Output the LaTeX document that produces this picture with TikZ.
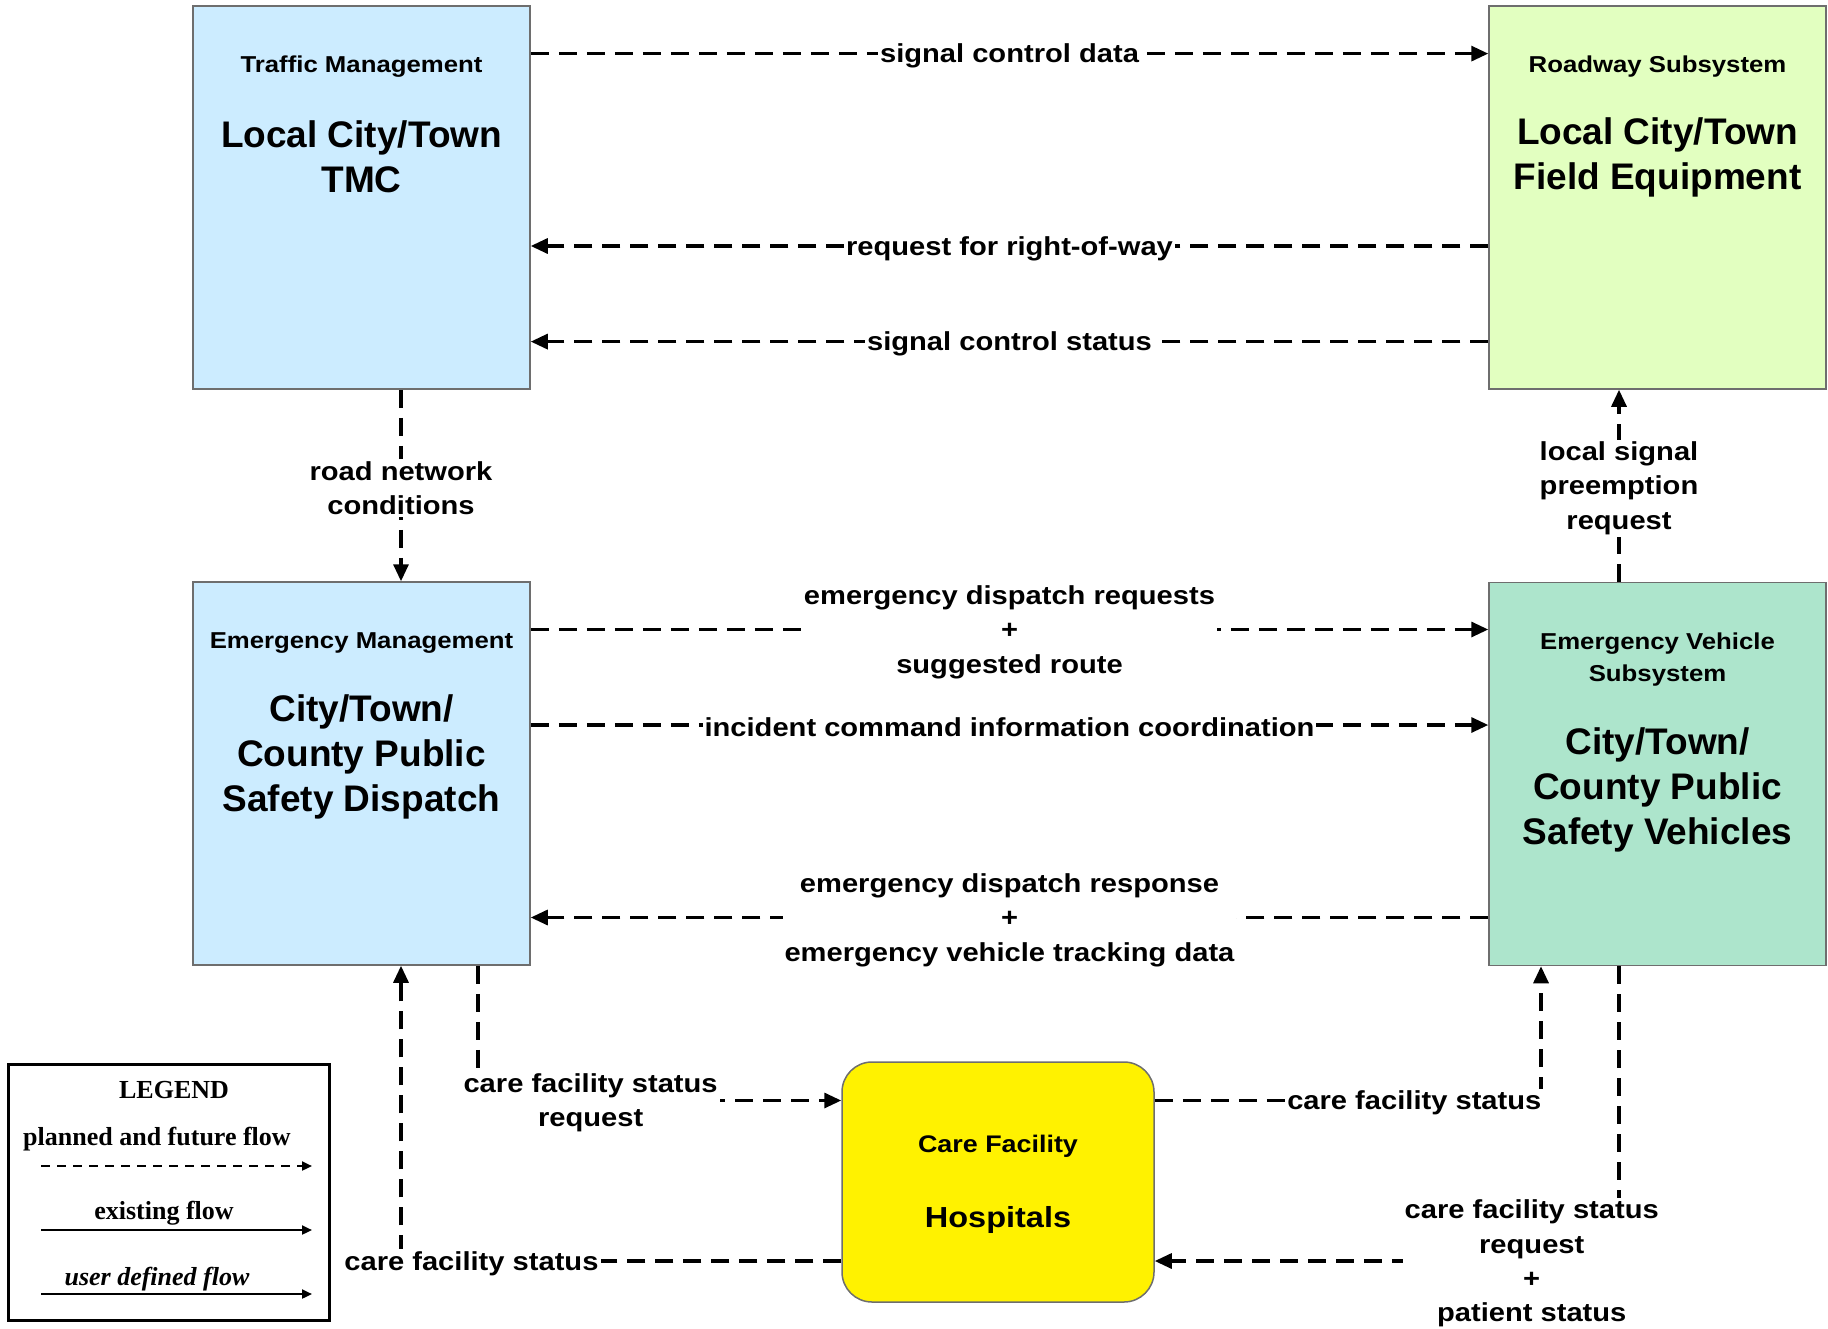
\documentclass[tikz,border=0pt]{standalone}
\usepackage{fontspec}
\setmainfont{Liberation Sans}
\newfontfamily\labfont[FakeStretch=1.12]{Liberation Sans}
\newfontfamily\legfont{Liberation Serif}
\usetikzlibrary{arrows.meta}
\definecolor{bluebox}{RGB}{204,236,255}
\definecolor{greenbox}{RGB}{226,255,192}
\definecolor{mintbox}{RGB}{173,229,204}
\definecolor{bordergray}{RGB}{110,110,110}
\begin{document}
\begin{tikzpicture}[x=1pt,y=-1pt,
  box/.style={draw=bordergray, line width=1.5pt, minimum width=337pt, minimum height=383pt, inner sep=0pt},
  flow/.style={draw, line width=3.2pt, dash pattern=on 18pt off 10pt, -{Triangle[length=17pt,width=15pt]}},
  lab/.style={fill=white, inner sep=2pt, yshift=-2.5pt, align=center, font=\labfont\bfseries\fontsize{26}{34.4}\selectfont},
  ttl/.style={align=center, font=\labfont\bfseries\fontsize{23}{32}\selectfont},
  nm/.style={align=center, font=\bfseries\fontsize{37}{45}\selectfont},
  legtext/.style={font=\legfont\bfseries\fontsize{26}{30}\selectfont},
  legarrow/.style={draw, line width=2.2pt, -{Triangle[length=10pt,width=9pt]}}
]
\useasboundingbox (0,0) rectangle (1828,1328);

% boxes
\node[box, fill=bluebox] (tmc) at (361.5,197.5) {};
\node[box, fill=greenbox] (rs) at (1657.5,197.5) {};
\node[box, fill=bluebox] (em) at (361.5,773.5) {};
\node[box, fill=mintbox] (ev) at (1657.5,774) {};
\node[draw=bordergray, line width=1.5pt, fill=yellow, rounded corners=30pt, minimum width=312pt, minimum height=240pt, inner sep=0pt] (cf) at (998,1182) {};

% box texts
\node[ttl] (tmcT) at (361.5,66.5) {Traffic Management};
\node[nm] (tmcN) at (361.5,156.5) {Local City/Town\\TMC};
\node[ttl] (rsT) at (1657.5,66.5) {Roadway Subsystem};
\node[nm] (rsN) at (1657.5,157) {Local City/Town\\Field Equipment};
\node[ttl] (emT) at (361.5,643) {Emergency Management};
\node[nm] (emN) at (361.5,757) {City/Town/\\County Public\\Safety Dispatch};
\node[ttl] (evT) at (1657.5,659.5) {Emergency Vehicle\\Subsystem};
\node[nm] (evN) at (1657.5,790) {City/Town/\\County Public\\Safety Vehicles};
\node[ttl, font=\labfont\bfseries\fontsize{24}{30}\selectfont] (cfT) at (998,1146) {Care Facility};
\node[ttl, font=\labfont\bfseries\fontsize{29}{34}\selectfont] (cfN) at (998,1219.5) {Hospitals};

% flows
\draw[flow] (tmc.east |- 0,53.6) -- node[lab]{signal control data} (rs.west |- 0,53.6);
\draw[flow] (rs.west |- 0,246) -- node[lab]{request for right-of-way} (tmc.east |- 0,246);
\draw[flow] (rs.west |- 0,341.6) -- node[lab]{signal control status} (tmc.east |- 0,341.6);
\draw[flow] (tmc.south -| 401,0) -- node[lab]{road network\\conditions} (em.north -| 401,0);
\draw[flow] (ev.north -| 1619,0) -- node[lab]{local signal\\preemption\\request} (rs.south -| 1619,0);
\draw[flow] (em.east |- 0,629.5) -- node[lab]{emergency dispatch requests\\+\\suggested route} (ev.west |- 0,629.5);
\draw[flow] (em.east |- 0,725) -- node[lab]{incident command information coordination} (ev.west |- 0,725);
\draw[flow] (ev.west |- 0,917.5) -- node[lab]{emergency dispatch response\\+\\emergency vehicle tracking data} (em.east |- 0,917.5);
\draw[flow] (em.south -| 478,0) |- node[lab,pos=0.655]{care facility status\\request} (cf.west |- 0,1100.5);
\draw[flow] (cf.east |- 0,1100.5) -| node[lab,pos=0.336]{care facility status} (ev.south -| 1541,0);
\draw[flow] (ev.south -| 1619,0) |- node[lab,pos=0.594]{care facility status\\request\\+\\patient status} (cf.east |- 0,1261);
\draw[flow] (cf.west |- 0,1261) -| node[lab,pos=0.42]{care facility status} (em.south -| 401,0);

% legend
\node[draw, line width=3pt, minimum width=321pt, minimum height=256pt, inner sep=0pt] (leg) at (168.5,1192) {};
\node[legtext] (legT) at (174,1090) {LEGEND};
\node[legtext] (leg1) at (157,1139) {planned and future flow};
\coordinate (a1s) at (41,1166);
\coordinate (a1e) at (312,1166);
\draw[legarrow, dash pattern=on 9pt off 7pt] (a1s) -- (a1e);
\node[legtext] (leg2) at (164,1213) {existing flow};
\coordinate (a2s) at (41,1230);
\coordinate (a2e) at (312,1230);
\draw[legarrow] (a2s) -- (a2e);
\node[legtext, font=\legfont\bfseries\itshape\fontsize{26}{30}\selectfont] (leg3) at (157,1279) {user defined flow};
\coordinate (a3s) at (41,1294);
\coordinate (a3e) at (312,1294);
\draw[legarrow] (a3s) -- (a3e);
\end{tikzpicture}
\end{document}
